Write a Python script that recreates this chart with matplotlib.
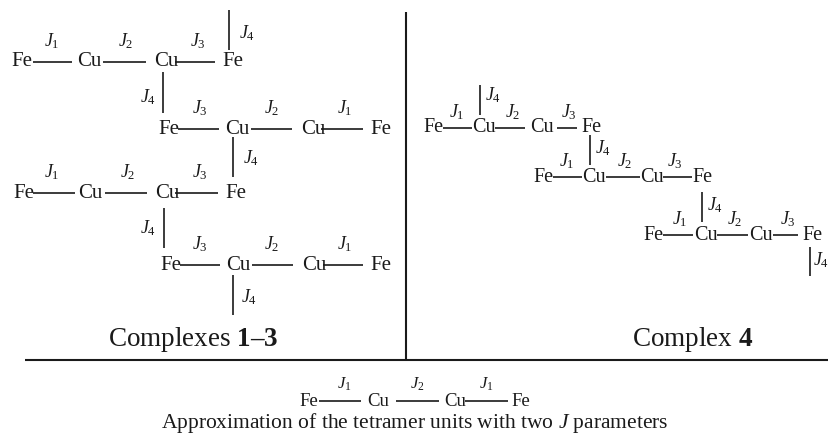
import matplotlib
matplotlib.use("Agg")
import matplotlib.pyplot as plt

plt.rcParams['font.family'] = ['Liberation Serif', 'DejaVu Serif']
plt.rcParams['mathtext.fontset'] = 'custom'
plt.rcParams['mathtext.rm'] = 'Liberation Serif'
plt.rcParams['mathtext.it'] = 'Liberation Serif:italic'
plt.rcParams['mathtext.bf'] = 'Liberation Serif:bold'

# ---- content ----
chain_atoms = ["Fe", "Cu", "Cu", "Fe"]
left_row_J = [["1", "2", "3"], ["3", "2", "1"], ["1", "2", "3"], ["3", "2", "1"]]
right_row_J = [["1", "2", "3"], ["1", "2", "3"], ["1", "2", "3"]]
bottom_atoms = ["Fe", "Cu", "Cu", "Fe"]
bottom_J = ["1", "2", "1"]
label_left = "Complexes $\\mathbf{1\u20133}$"
label_right = "Complex $\\mathbf{4}$"
caption = "Approximation of the tetramer units with two $J$ parameters"

# ---- layout (pixels) ----
left_rows_y = [62, 129, 193, 265]
left_atom_x = [[22, 89, 166, 233], [169, 237, 313, 381],
               [24, 90, 167, 236], [171, 238, 314, 381]]
left_bonds = [[(33, 72), (103, 146), (175, 215)],
              [(178, 219), (251, 292), (321, 363)],
              [(33, 75), (105, 147), (175, 218)],
              [(180, 220), (252, 293), (323, 363)]]
left_jx = [[52, 126, 198], [200, 272, 345], [52, 128, 200], [200, 272, 345]]
left_vert = [(229, 10, 50, 247, 33),
             (163, 72, 113, 148, 97),
             (233, 137, 177, 251, 158),
             (164, 208, 248, 148, 228),
             (233, 275, 315, 249, 297)]

right_rows_y = [128, 177, 235]
right_atom_x = [[434, 484, 542, 592], [544, 594, 652, 703], [654, 706, 761, 813]]
right_bonds = [[(443, 472), (495, 525), (557, 577)],
               [(553, 582), (606, 640), (663, 692)],
               [(663, 693), (717, 748), (773, 798)]]
right_jx = [[457, 513, 569], [567, 625, 675], [680, 735, 788]]
right_vert = [(480, 85, 115, 485, 95),
              (590, 135, 165, 595, 148),
              (702, 192, 222, 707, 205),
              (810, 247, 276, 813, 260)]

bottom_y = 401
bottom_atom_x = [309, 378, 455, 521]
bottom_bonds = [(319, 361), (396, 439), (465, 508)]
bottom_jx = [344, 417, 486]

fig = plt.figure(figsize=(8.29, 4.38), dpi=100)
ax = fig.add_axes([0, 0, 1, 1])
ax.set_xlim(0, 829)
ax.set_ylim(438, 0)
ax.axis('off')

LW = 1.2
ATOM_FS = 15
J_FS = 13
INK = '#1a1a1a'


def chain(atoms, js, ax_x, y, bonds, jx, jdy, afs=ATOM_FS, jfs=J_FS):
    for a, x in zip(atoms, ax_x):
        ax.text(x, y, a, fontsize=afs, ha='center', va='center', color=INK)
    for (x0, x1) in bonds:
        ax.plot([x0, x1], [y, y], color=INK, lw=LW, solid_capstyle='butt')
    for j, x in zip(js, jx):
        ax.text(x, y - jdy, "$J_{%s}$" % j, fontsize=jfs, ha='center', va='center', color=INK)


for i, y in enumerate(left_rows_y):
    chain(chain_atoms, left_row_J[i], left_atom_x[i], y, left_bonds[i], left_jx[i], 21)
for (x, y0, y1, lx, ly) in left_vert:
    ax.plot([x, x], [y0, y1], color=INK, lw=LW, solid_capstyle='butt')
    ax.text(lx, ly, "$J_{4}$", fontsize=J_FS, ha='center', va='center', color=INK)

for i, y in enumerate(right_rows_y):
    chain(chain_atoms, right_row_J[i], right_atom_x[i], y, right_bonds[i], right_jx[i], 16, afs=14.5)
for (x, y0, y1, lx, ly) in right_vert:
    ax.plot([x, x], [y0, y1], color=INK, lw=LW, solid_capstyle='butt')
    ax.text(lx, ly, "$J_{4}$", fontsize=J_FS, ha='left', va='center', color=INK)

chain(bottom_atoms, bottom_J, bottom_atom_x, bottom_y, bottom_bonds, bottom_jx, 17, afs=13.5, jfs=12)

# frame lines
ax.plot([406, 406], [12, 360], color=INK, lw=1.5, solid_capstyle='butt')
ax.plot([25, 829], [360, 360], color=INK, lw=1.5, solid_capstyle='butt')

ax.text(193, 339, label_left, fontsize=19.5, ha='center', va='center', color=INK)
ax.text(693, 339, label_right, fontsize=19.5, ha='center', va='center', color=INK)
ax.text(415, 423, caption, fontsize=15.5, ha='center', va='center', color=INK)

fig.savefig("out.png", dpi=100)
